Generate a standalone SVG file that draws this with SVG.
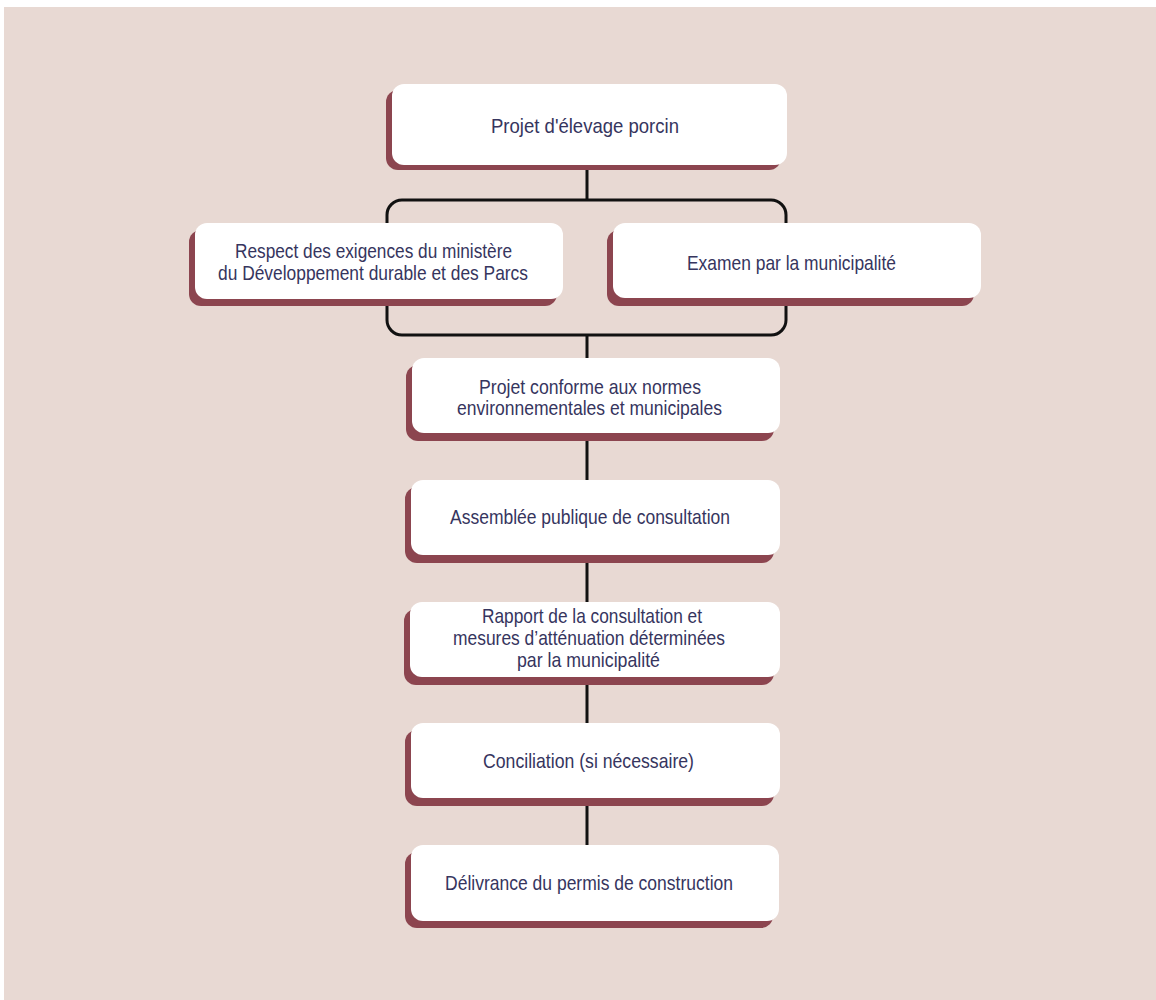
<svg xmlns="http://www.w3.org/2000/svg" width="1156" height="1000" viewBox="0 0 1156 1000">
<defs>
<style>
.bg{fill:#e8d9d3}
.sh{fill:#8c454f}
.bx{fill:#ffffff}
.t{font-family:"Liberation Sans Narrow","Liberation Sans",Arial,sans-serif;font-size:21px;fill:#36355e;text-anchor:middle}
.ln{stroke:#111111;stroke-width:3;fill:none}
</style>
</defs>
<rect x="0" y="0" width="1156" height="1000" fill="#ffffff"/>
<rect class="bg" x="4" y="7" width="1152" height="993"/>
<g id="connectors">
<line class="ln" x1="587" y1="165" x2="587" y2="200"/>
<rect class="ln" x="387" y="200" width="399" height="135" rx="15" ry="15"/>
<line class="ln" x1="587" y1="335" x2="587" y2="358"/>
<line class="ln" x1="587" y1="433" x2="587" y2="480"/>
<line class="ln" x1="587" y1="555" x2="587" y2="602"/>
<line class="ln" x1="587" y1="677" x2="587" y2="723"/>
<line class="ln" x1="587" y1="798" x2="587" y2="845"/>
</g>
<g id="n1">
<rect class="sh" x="386" y="90" width="395" height="80" rx="12"/>
<rect class="bx" x="392" y="84" width="395" height="81" rx="12"/>
<text class="t" x="585" y="133" textLength="188" lengthAdjust="spacingAndGlyphs">Projet d'élevage porcin</text>
</g>
<g id="n2">
<rect class="sh" x="189" y="230" width="368" height="76" rx="12"/>
<rect class="bx" x="195" y="223" width="368" height="76" rx="12"/>
<text class="t" x="373.5" y="258" textLength="277" lengthAdjust="spacingAndGlyphs">Respect des exigences du ministère</text>
<text class="t" x="373" y="280" textLength="310" lengthAdjust="spacingAndGlyphs">du Développement durable et des Parcs</text>
</g>
<g id="n3">
<rect class="sh" x="607" y="230" width="367" height="76" rx="12"/>
<rect class="bx" x="613" y="223" width="368" height="75" rx="12"/>
<text class="t" x="791.5" y="270" textLength="209" lengthAdjust="spacingAndGlyphs">Examen par la municipalité</text>
</g>
<g id="n4">
<rect class="sh" x="406" y="365" width="368" height="76" rx="12"/>
<rect class="bx" x="412" y="358" width="368" height="75" rx="12"/>
<text class="t" x="590" y="394" textLength="222" lengthAdjust="spacingAndGlyphs">Projet conforme aux normes</text>
<text class="t" x="589.5" y="415" textLength="265" lengthAdjust="spacingAndGlyphs">environnementales et municipales</text>
</g>
<g id="n5">
<rect class="sh" x="405" y="487" width="369" height="76" rx="12"/>
<rect class="bx" x="411" y="480" width="369" height="75" rx="12"/>
<text class="t" x="590" y="524" textLength="280" lengthAdjust="spacingAndGlyphs">Assemblée publique de consultation</text>
</g>
<g id="n6">
<rect class="sh" x="404" y="609" width="370" height="76" rx="12"/>
<rect class="bx" x="410" y="602" width="370" height="75" rx="12"/>
<text class="t" x="592" y="623" textLength="220" lengthAdjust="spacingAndGlyphs">Rapport de la consultation et</text>
<text class="t" x="589" y="645" textLength="272" lengthAdjust="spacingAndGlyphs">mesures d’atténuation déterminées</text>
<text class="t" x="588.5" y="667" textLength="143" lengthAdjust="spacingAndGlyphs">par la municipalité</text>
</g>
<g id="n7">
<rect class="sh" x="405" y="730" width="369" height="76" rx="12"/>
<rect class="bx" x="411" y="723" width="369" height="75" rx="12"/>
<text class="t" x="588.5" y="768" textLength="211" lengthAdjust="spacingAndGlyphs">Conciliation (si nécessaire)</text>
</g>
<g id="n8">
<rect class="sh" x="405" y="852" width="368" height="76" rx="12"/>
<rect class="bx" x="411" y="845" width="368" height="76" rx="12"/>
<text class="t" x="589" y="890" textLength="288" lengthAdjust="spacingAndGlyphs">Délivrance du permis de construction</text>
</g>
</svg>
